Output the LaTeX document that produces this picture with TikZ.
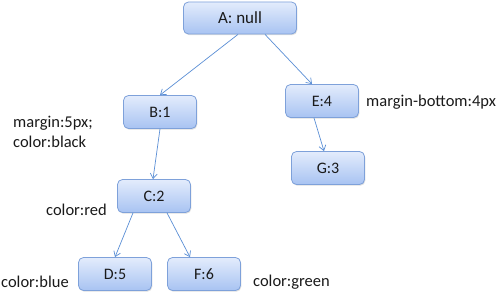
\documentclass[tikz,border=0pt]{standalone}
\usepackage{fontspec}
\setmainfont{Carlito}
\usetikzlibrary{arrows.meta,shadows}
\definecolor{edgeblue}{HTML}{5B8FD6}
\definecolor{boxborder}{HTML}{7EA1DA}
\definecolor{boxtop}{HTML}{E3ECFC}
\definecolor{boxbot}{HTML}{A8C3F2}
\definecolor{txt}{HTML}{1A1A1A}
\tikzset{
  treenode/.style={draw=boxborder, line width=0.8pt, rounded corners=5pt,
    top color=boxtop, bottom color=boxbot, minimum height=33pt,
    minimum width=73pt, inner sep=0pt, font=\fontsize{16}{18}\selectfont, text=txt,
    drop shadow={shadow xshift=0.8pt, shadow yshift=-1.2pt, opacity=0.25}},
  arr/.style={draw=edgeblue, line width=0.7pt, -{Straight Barb[length=5pt,width=7pt]}},
  lbl/.style={anchor=west, font=\fontsize{16.5}{20}\selectfont, text=txt, inner sep=0pt, align=left}
}
\begin{document}
\begin{tikzpicture}[x=1pt,y=-1pt]
\useasboundingbox[fill=white] (0,0) rectangle (500,294);
\node[treenode, minimum width=113pt, minimum height=32pt, font=\fontsize{17}{19}\selectfont] (A) at (240,18) {A: null};
\node[treenode] (B) at (160,112) {B:1};
\node[treenode] (E) at (322,101) {E:4};
\node[treenode] (G) at (328,168) {G:3};
\node[treenode] (C) at (154,196) {C:2};
\node[treenode] (D) at (115,274) {D:5};
\node[treenode] (F) at (204,274) {F:6};
\draw[arr] ([xshift=-2pt]A.south) -- (B.north);
\draw[arr] ([xshift=25pt]A.south) -- ([xshift=-10pt]E.north);
\draw[arr] (B.south) -- ([xshift=-1pt]C.north);
\draw[arr] ([xshift=-8pt]E.south) -- ([xshift=-4pt]G.north);
\draw[arr] ([xshift=-21pt]C.south) -- (D.north);
\draw[arr] ([xshift=13pt]C.south) -- ([xshift=-14pt]F.north);
\node[lbl] (l1) at (13,132) {margin:5px;\\color:black};
\node[lbl] (l2) at (366,102) {margin-bottom:4px};
\node[lbl] (l3) at (46,210) {color:red};
\node[lbl] (l4) at (1,282) {color:blue};
\node[lbl] (l5) at (253,282) {color:green};
\end{tikzpicture}
\end{document}
